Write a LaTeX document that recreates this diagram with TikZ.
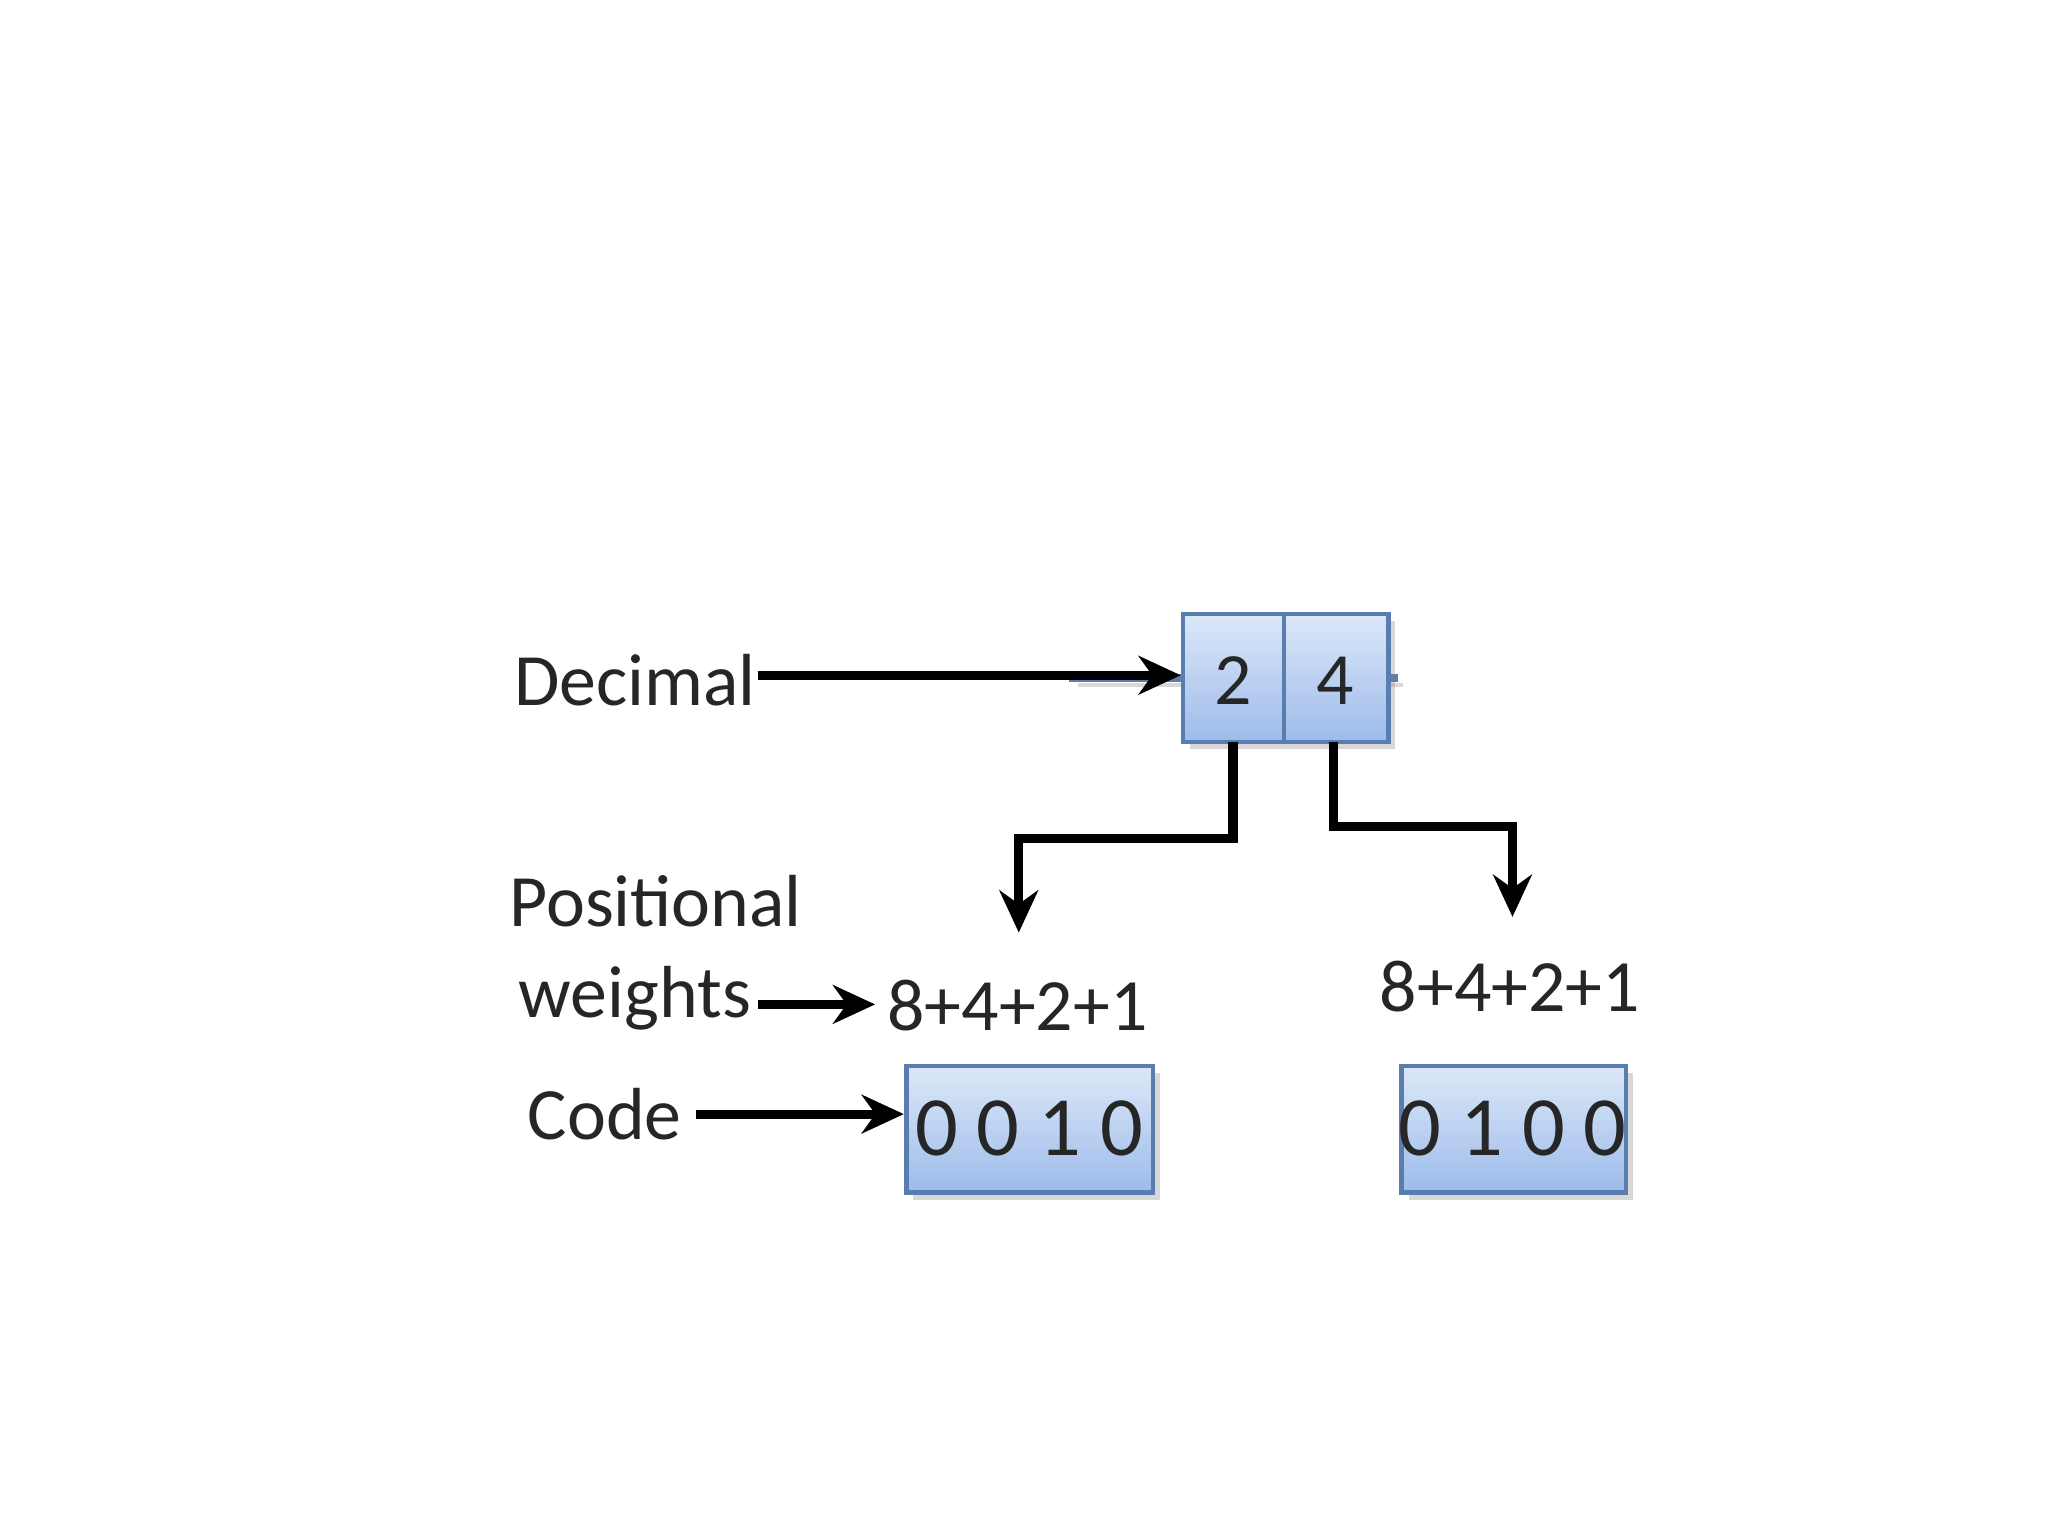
\documentclass[tikz,border=0pt]{standalone}
\usepackage{fontspec}
\setmainfont{Carlito}
\usetikzlibrary{arrows.meta,shadows}
\definecolor{btop}{HTML}{DCE8F8}
\definecolor{bbot}{HTML}{9DBBEA}
\definecolor{bdr}{HTML}{5A7DB0}
\tikzset{
  cell/.style={draw=bdr,line width=1.2pt,top color=btop,bottom color=bbot,drop shadow={opacity=0.3,shadow xshift=2pt,shadow yshift=-2pt}},
  lbl/.style={font=\fontsize{21}{24}\selectfont,text=black!85},
  arr/.style={line width=2.6pt,-{Stealth[length=12pt,width=11pt]}}
}
\begin{document}
\begin{tikzpicture}[x=0.01306cm,y=-0.01306cm]
\useasboundingbox (0,0) rectangle (1568,1176);
\fill[white] (0,0) rectangle (1568,1176);
% top boxes
\node[cell,minimum width=77\pgflinewidth,inner sep=0] (d2) at (944.5,519) {};
\path[cell] (906,470) rectangle (983,568);
\path[cell] (983,470) rectangle (1063,568);
\node[lbl] (n2) at (944,521) {2};
\node[lbl] (n4) at (1022,521) {4};
\coordinate (b2) at (944,568);
\coordinate (b4) at (1021,568);
\coordinate (dl) at (904,517);
% code boxes
\path[cell] (694,816) rectangle (883,913);
\node[lbl,font=\fontsize{24}{28}\selectfont] (c1) at (788,864) {0 0 1 0};
\path[cell] (1073,816) rectangle (1245,913);
\node[lbl,font=\fontsize{24}{28}\selectfont] (c2) at (1158,864) {0 1 0 0};
\coordinate (c1l) at (692,853);
% labels
\node[lbl] (dec) at (486,521) {Decimal};
\node[lbl] (pos) at (502,690) {Positional};
\node[lbl] (wt) at (486,764) {weights};
\node[lbl] (code) at (463,853) {Code};
\node[lbl] (w1) at (779,770) {8+4+2+1};
\node[lbl] (w2) at (1156,755) {8+4+2+1};
% arrows
\draw[arr] (580,517) -- (dl);
\draw[arr] (580,769) -- (w1.west|-0,769);
\draw[arr] (533,853) -- (c1l);
\draw[arr,line join=miter] (b2) -- (944,642) -- (780,642) -- (780,714);
\draw[arr,line join=miter] (b4) -- (1021,633) -- (1158,633) -- (1158,702);
\end{tikzpicture}
\end{document}
